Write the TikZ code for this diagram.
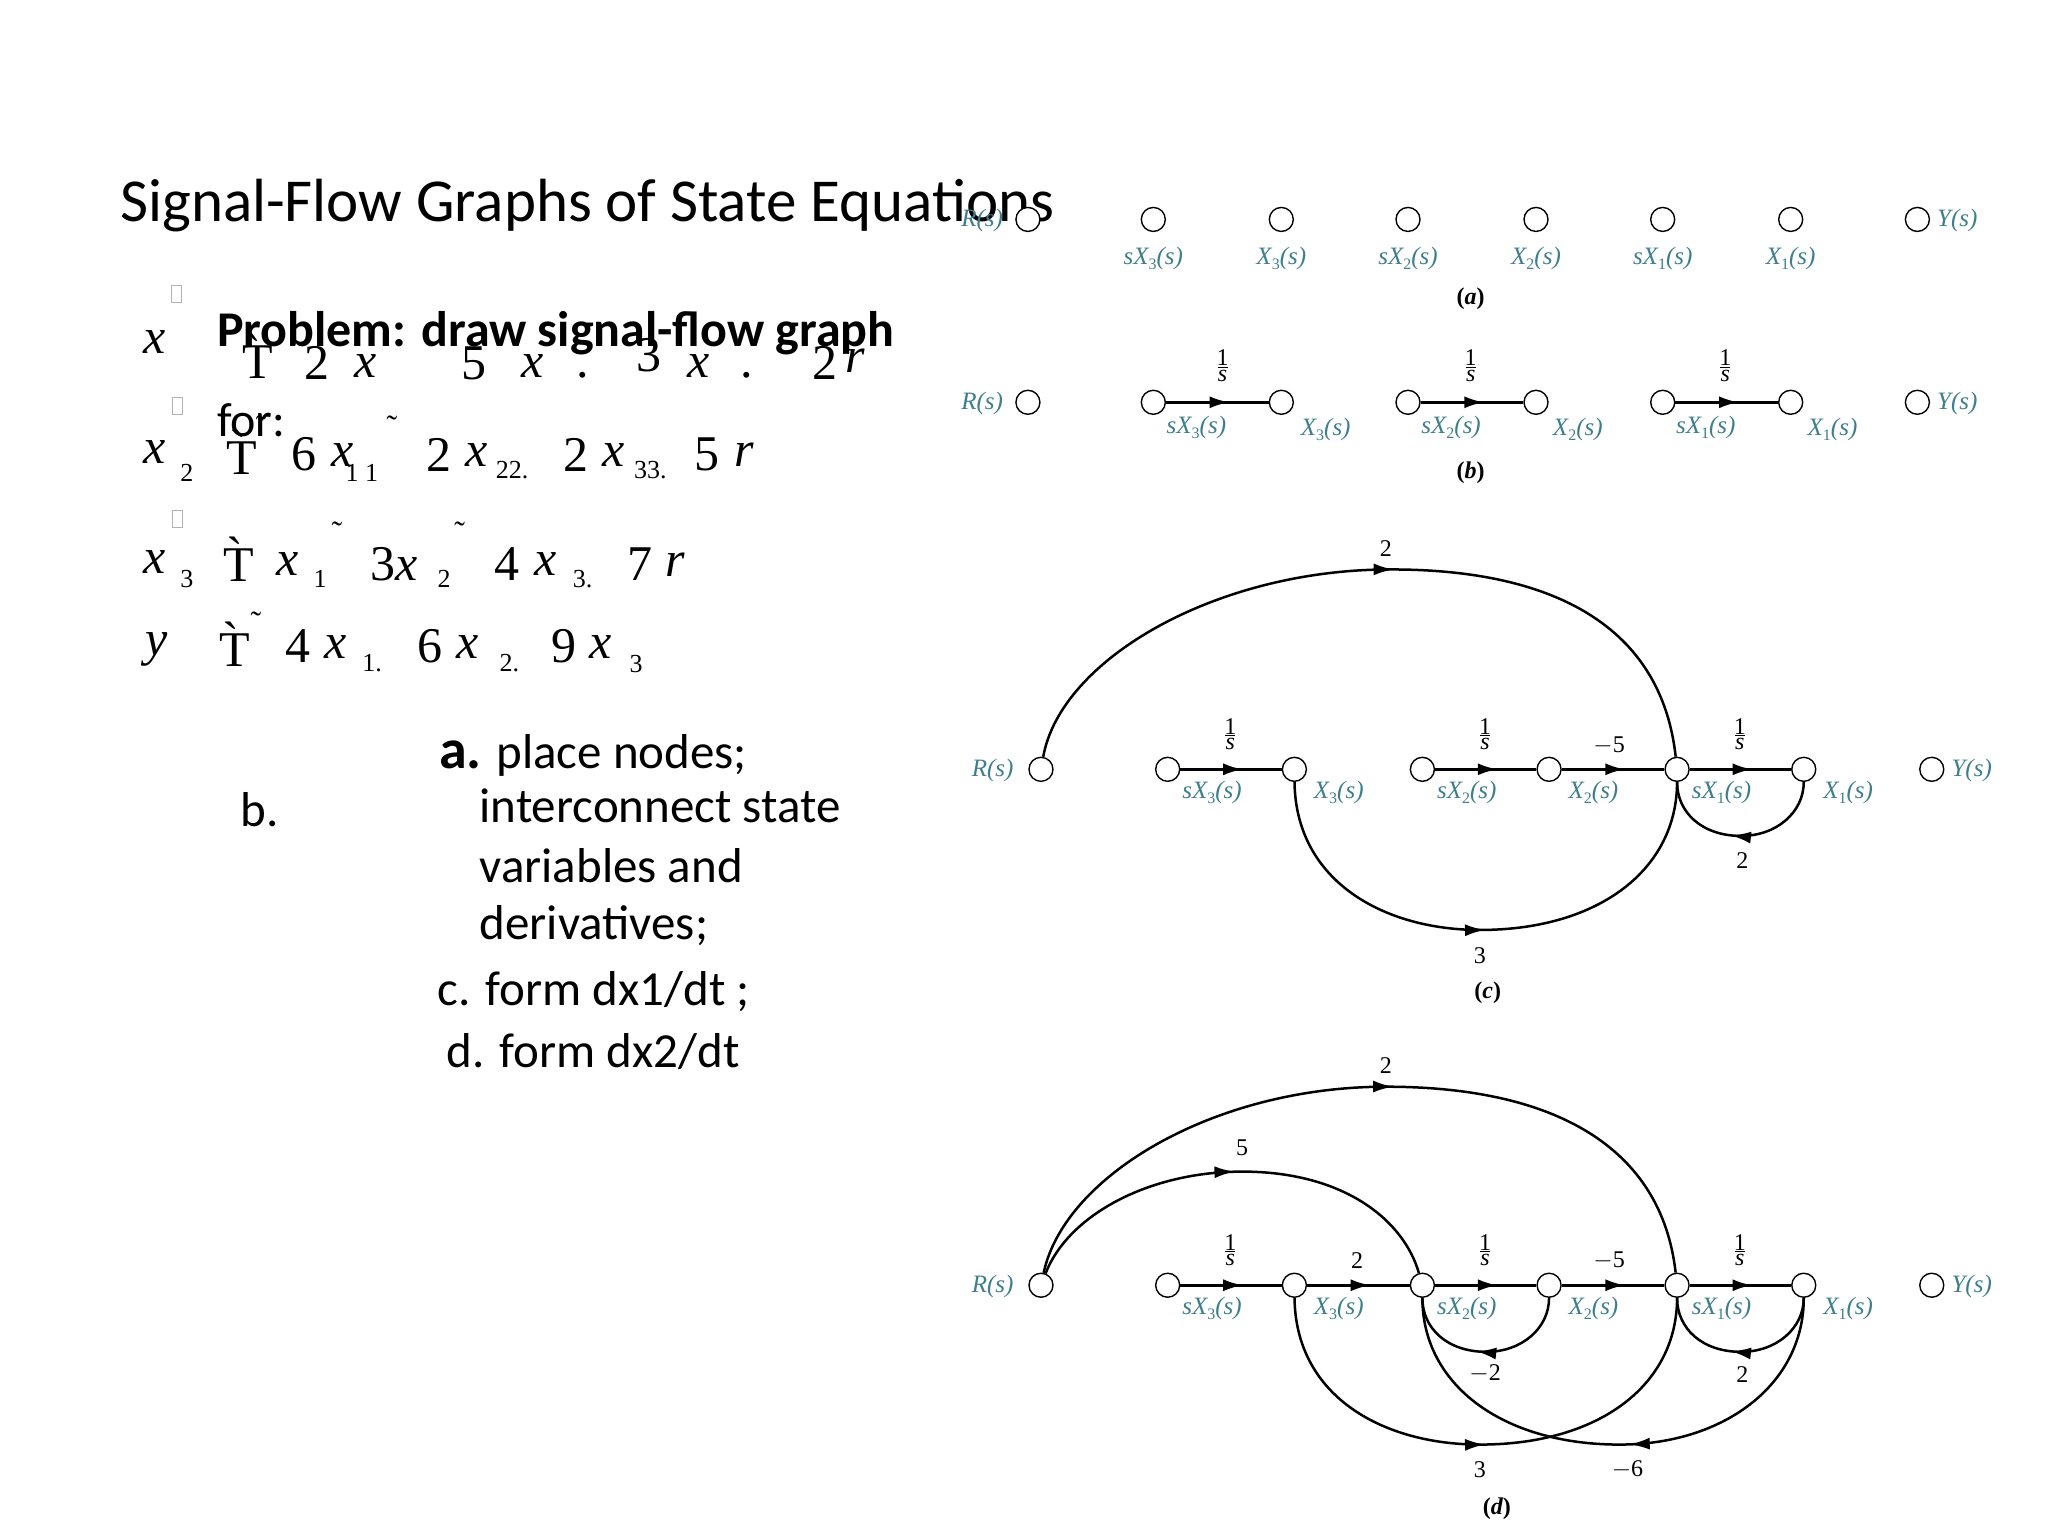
\documentclass[tikz,border=0pt]{standalone}
\usepackage{fontspec}
\setmainfont{Carlito}
\newfontfamily\serif{Liberation Serif}
\usetikzlibrary{arrows.meta,decorations.markings}
\definecolor{teal1}{HTML}{3F7F8C}
\newcommand\sxl[2]{#1\raisebox{-5pt}{\fontsize{16}{16}\selectfont\upshape #2}(\textit{s})}
\newcommand\ovs{\shortstack{1\\[-2pt]\rule{10pt}{0.9pt}\\[-1pt]\textit{s}}}
\begin{document}
\begin{tikzpicture}[x=1.306pt,y=-1.306pt,
  dot/.style={circle,draw,minimum size=24pt,inner sep=0pt,line width=1.4pt,fill=white},
  lab/.style={text=teal1,font=\serif\itshape\fontsize{25}{27}\selectfont,inner sep=0pt},
  gain/.style={font=\serif\fontsize{24}{25}\selectfont,inner sep=0pt},
  figcap/.style={font=\serif\bfseries\itshape\fontsize{24}{25}\selectfont,inner sep=0pt},
  arr/.style={decoration={markings,mark=at position #1 with {\arrow{Latex[length=20pt,width=12pt]}}},postaction={decorate}},
  edge/.style={line width=3pt,arr=0.62},
  arc/.style={line width=2.5pt},
  eq/.style={font=\serif\fontsize{50}{52}\selectfont,inner sep=0pt},
  eqi/.style={font=\serif\itshape\fontsize{50}{52}\selectfont,inner sep=0pt},
  sb/.style={font=\serif\fontsize{26}{28}\selectfont,inner sep=0pt},
  tl/.style={font=\serif\fontsize{32}{32}\selectfont,inner sep=0pt},
  body/.style={font=\fontsize{49}{51}\selectfont,inner sep=0pt,anchor=west},
  bx/.style={draw=gray!60,line width=0.8pt,minimum width=10pt,minimum height=17pt,inner sep=0pt}]
\useasboundingbox (0,0) rectangle (1568,1176);
\fill[white] (0,0) rectangle (1568,1176);
% title
\node[font=\fontsize{61}{63}\selectfont,anchor=west,inner sep=0pt] (title) at (92,157) {Signal-Flow Graphs of State Equations};
% boxes
\node[bx] (b1) at (135,225) {};
\node[bx] (b2) at (136,311) {};
\node[bx] (b3) at (136,397) {};
% row1
\node[font=\bfseries\fontsize{50}{52}\selectfont,anchor=west,inner sep=0pt] (prob) at (166,255) {Problem: draw signal-flow graph};
\node[font=\fontsize{48}{50}\selectfont,anchor=west,inner sep=0pt] (for) at (166,322) {for:};
\node[eqi] (r1a) at (118,262) {x};
\node[eq] (r1b) at (197,273) {\`T};
\node[eq] (r1c) at (243,278) {2};
\node[eqi] (r1d) at (280,280) {x};
\node[eq] (r1e) at (363,278) {5};
\node[eqi] (r1f) at (408,280) {x};
\node[eq] (r1g) at (446,287) {.};
\node[eq] (r1h) at (497,272) {3};
\node[eqi] (r1i) at (535,280) {x};
\node[eq] (r1j) at (572,287) {.};
\node[eq] (r1k) at (632,278) {2};
\node[eqi] (r1l) at (655,276) {r};
% row2
\node[eqi] (r2a) at (118,346) {x};
\node[sb] (r2b) at (143,362) {2};
\node[eq] (r2c) at (185,346) {\`T};
\node[tl] (r2d) at (200,327) {˜};
\node[eq] (r2e) at (233,348) {6};
\node[eqi] (r2f) at (262,348) {x};
\node[sb] (r2g) at (277,362) {1 1};
\node[tl] (r2h) at (300,327) {˜};
\node[eq] (r2i) at (336,348) {2};
\node[eqi] (r2j) at (365,348) {x};
\node[sb] (r2k) at (392,360) {22.};
\node[eq] (r2l) at (441,348) {2};
\node[eqi] (r2m) at (470,348) {x};
\node[sb] (r2n) at (498,360) {33.};
\node[eq] (r2o) at (541,348) {5};
\node[eqi] (r2p) at (570,348) {r};
% row3
\node[eqi] (r3a) at (118,430) {x};
\node[sb] (r3b) at (143,443) {3};
\node[eq] (r3c) at (183,428) {\`T};
\node[eqi] (r3d) at (220,432) {x};
\node[sb] (r3e) at (245,443) {1};
\node[tl] (r3f) at (258,408) {˜};
\node[eqi] (r3g) at (302,432) {\upshape 3\itshape x};
\node[sb] (r3h) at (340,443) {2};
\node[tl] (r3i) at (352,408) {˜};
\node[eq] (r3j) at (388,432) {4};
\node[eqi] (r3k) at (418,432) {x};
\node[sb] (r3l) at (446,443) {3.};
\node[eq] (r3m) at (490,432) {7};
\node[eqi] (r3n) at (517,432) {r};
% row4
\node[eqi] (r4a) at (120,497) {y};
\node[eq] (r4b) at (180,493) {\`T};
\node[tl] (r4c) at (196,477) {˜};
\node[eq] (r4d) at (228,495) {4};
\node[eqi] (r4e) at (257,495) {x};
\node[sb] (r4f) at (285,508) {1.};
\node[eq] (r4g) at (329,495) {6};
\node[eqi] (r4h) at (358,495) {x};
\node[sb] (r4i) at (390,508) {2.};
\node[eq] (r4j) at (432,495) {9};
\node[eqi] (r4k) at (460,495) {x};
\node[sb] (r4l) at (487,508) {3};
% steps
\node[body] (sa) at (336,578) {\textbf{\fontsize{56}{56}\selectfont a.} place nodes;};
\node[body] (sb0) at (184,620) {b.};
\node[body] (sb1) at (367,617) {interconnect state};
\node[body] (sb2) at (367,663) {variables and};
\node[body] (sb3) at (367,709) {derivatives;};
\node[body] (sc) at (335,759) {c. form dx1/dt ;};
\node[body] (sd) at (342,805) {d. form dx2/dt};
% ---------- (a)
\foreach \n/\x in {R/787,1/883,2/981,3/1078,4/1176,5/1273,6/1371,Y/1468}
  \node[dot] (a\n) at (\x,168) {};
\node[lab] (aRl) at (752,169) {R(s)};
\node[lab,anchor=west] (aYl) at (1483,169) {Y(s)};
\node[lab] (a1l) at (883,198) {\sxl{sX}{3}};
\node[lab] (a2l) at (981,198) {\sxl{X}{3}};
\node[lab] (a3l) at (1078,198) {\sxl{sX}{2}};
\node[lab] (a4l) at (1176,198) {\sxl{X}{2}};
\node[lab] (a5l) at (1273,198) {\sxl{sX}{1}};
\node[lab] (a6l) at (1371,198) {\sxl{X}{1}};
\node[figcap] (acap) at (1126,229) {\upshape(\itshape a\upshape)};
% ---------- (b)
\foreach \n/\x in {R/787,1/883,2/981,3/1078,4/1176,5/1273,6/1371,Y/1468}
  \node[dot] (b\n) at (\x,308) {};
\node[lab] (bRl) at (752,309) {R(s)};
\node[lab,anchor=west] (bYl) at (1483,309) {Y(s)};
\draw[edge] (b1) -- (b2);
\draw[edge] (b3) -- (b4);
\draw[edge] (b5) -- (b6);
\node[gain] (bg1) at (936,280) {\ovs};
\node[gain] (bg2) at (1126,280) {\ovs};
\node[gain] (bg3) at (1321,280) {\ovs};
\node[lab] (b1l) at (916,327) {\sxl{sX}{3}};
\node[lab] (b2l) at (1015,329) {\sxl{X}{3}};
\node[lab] (b3l) at (1111,327) {\sxl{sX}{2}};
\node[lab] (b4l) at (1208,329) {\sxl{X}{2}};
\node[lab] (b5l) at (1306,327) {\sxl{sX}{1}};
\node[lab] (b6l) at (1403,329) {\sxl{X}{1}};
\node[figcap] (bcap) at (1126,362) {\upshape(\itshape b\upshape)};
% ---------- (c)
\foreach \n/\x in {R/797,1/894,2/991,3/1089,4/1186,5/1284,6/1381,Y/1479}
  \node[dot] (c\n) at (\x,589) {};
\node[lab] (cRl) at (760,590) {R(s)};
\node[lab,anchor=west] (cYl) at (1494,590) {Y(s)};
\draw[edge] (c1) -- (c2);
\draw[edge] (c3) -- (c4);
\draw[edge] (c4) -- (c5);
\draw[edge] (c5) -- (c6);
\node[gain] (cg1) at (942,562) {\ovs};
\node[gain] (cg2) at (1137,562) {\ovs};
\node[gain] (cg3) at (1232,571) {$-$5};
\node[gain] (cg4) at (1332,562) {\ovs};
\draw[arc,arr=0.53] (cR) .. controls (812,505) and (930,437) .. (1061,436) .. controls (1190,435) and (1272,480) .. (c5);
\node[gain] (cg5) at (1061,420) {2};
\draw[arc,arr=0.5] (c2) .. controls (992,675) and (1060,712) .. (1133,712) .. controls (1225,712) and (1284,665) .. (c5);
\node[gain] (cg6) at (1133,732) {3};
\draw[arc,arr=0.55] (c6) .. controls (1381,622) and (1360,640) .. (1333,640) .. controls (1303,640) and (1284,622) .. (c5);
\node[gain] (cg7) at (1334,659) {2};
\node[lab] (c1l) at (928,607) {\sxl{sX}{3}};
\node[lab] (c2l) at (1025,607) {\sxl{X}{3}};
\node[lab] (c3l) at (1123,607) {\sxl{sX}{2}};
\node[lab] (c4l) at (1220,607) {\sxl{X}{2}};
\node[lab] (c5l) at (1318,607) {\sxl{sX}{1}};
\node[lab] (c6l) at (1415,607) {\sxl{X}{1}};
\node[figcap] (ccap) at (1139,760) {\upshape(\itshape c\upshape)};
% ---------- (d)
\foreach \n/\x in {R/797,1/894,2/991,3/1089,4/1186,5/1284,6/1381,Y/1479}
  \node[dot] (d\n) at (\x,984) {};
\node[lab] (dRl) at (760,985) {R(s)};
\node[lab,anchor=west] (dYl) at (1494,985) {Y(s)};
\draw[edge] (d1) -- (d2);
\draw[edge] (d2) -- (d3);
\draw[edge] (d3) -- (d4);
\draw[edge] (d4) -- (d5);
\draw[edge] (d5) -- (d6);
\node[gain] (dg1) at (942,957) {\ovs};
\node[gain] (dg2) at (1039,965) {2};
\node[gain] (dg3) at (1137,957) {\ovs};
\node[gain] (dg4) at (1232,965) {$-$5};
\node[gain] (dg5) at (1332,957) {\ovs};
\draw[arc,arr=0.53] (dR) .. controls (815,900) and (930,832) .. (1061,832) .. controls (1190,832) and (1272,878) .. (d5);
\node[gain] (dg6) at (1061,816) {2};
\draw[arc,arr=0.5] (dR) .. controls (818,930) and (880,897) .. (951,897) .. controls (1030,897) and (1075,935) .. (d3);
\node[gain] (dg7) at (951,879) {5};
\draw[arc,arr=0.55] (d4) .. controls (1186,1017) and (1165,1035) .. (1138,1035) .. controls (1108,1035) and (1089,1017) .. (d3);
\node[gain] (dg8) at (1137,1052) {$-$2};
\draw[arc,arr=0.55] (d6) .. controls (1381,1017) and (1360,1035) .. (1333,1035) .. controls (1303,1035) and (1284,1017) .. (d5);
\node[gain] (dg9) at (1334,1052) {2};
\draw[arc,arr=0.5] (d2) .. controls (992,1070) and (1060,1106) .. (1133,1106) .. controls (1225,1106) and (1284,1060) .. (d5);
\node[gain] (dg10) at (1133,1125) {3};
\draw[arc,arr=0.47] (d6) .. controls (1381,1060) and (1320,1106) .. (1240,1106) .. controls (1150,1106) and (1089,1060) .. (d3);
\node[gain] (dg11) at (1246,1125) {$-$6};
\node[lab] (d1l) at (928,1002) {\sxl{sX}{3}};
\node[lab] (d2l) at (1025,1002) {\sxl{X}{3}};
\node[lab] (d3l) at (1123,1002) {\sxl{sX}{2}};
\node[lab] (d4l) at (1220,1002) {\sxl{X}{2}};
\node[lab] (d5l) at (1318,1002) {\sxl{sX}{1}};
\node[lab] (d6l) at (1415,1002) {\sxl{X}{1}};
\node[figcap] (dcap) at (1146,1155) {\upshape(\itshape d\upshape)};
\end{tikzpicture}
\end{document}
